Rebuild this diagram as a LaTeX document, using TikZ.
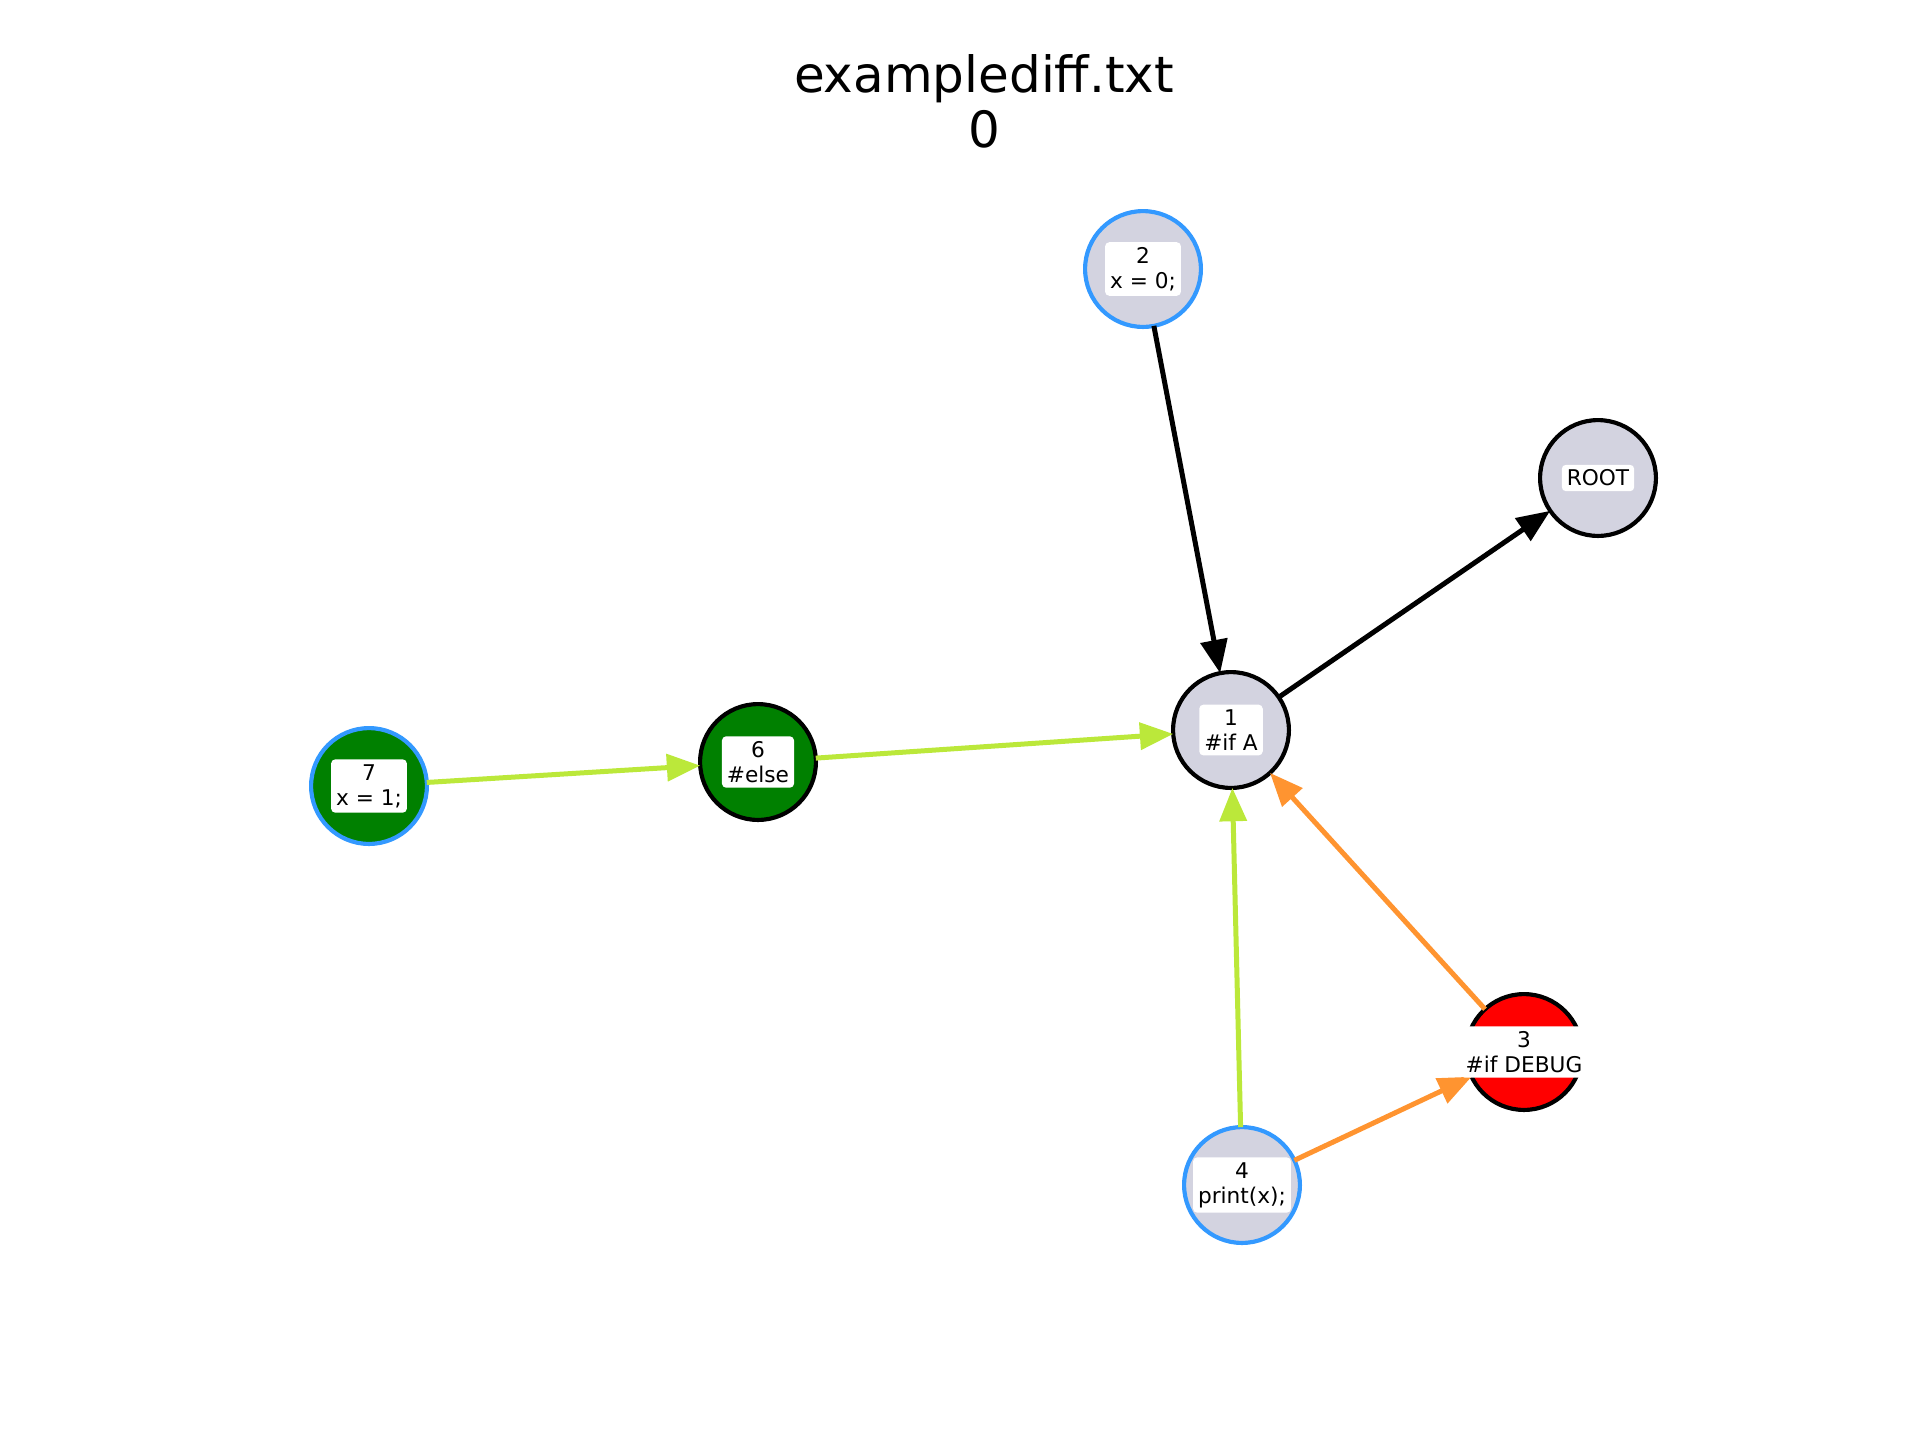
\documentclass[tikz,border=0pt]{standalone}
\usepackage{fontspec}
\setmainfont{DejaVu Sans}
\usetikzlibrary{arrows.meta}
\definecolor{nodefill}{HTML}{D3D3E0}
\definecolor{bluebd}{HTML}{3399FF}
\definecolor{greenfill}{HTML}{008000}
\definecolor{redfill}{HTML}{FF0000}
\definecolor{ygreen}{HTML}{BBE83A}
\definecolor{orangee}{HTML}{FF9430}
\begin{document}
\begin{tikzpicture}[x=0.24pt,y=-0.24pt,
  circ/.style={circle,minimum size=27.8pt,inner sep=0pt,outer sep=0pt,line width=1pt},
  lbl/.style={fill=white,rounded corners=1pt,inner sep=1.2pt,align=center,font=\fontsize{5.2}{6}\selectfont},
  edgearrow/.style={line width=1.2pt,-{Triangle[length=8pt,width=6.4pt]}},
  ttl/.style={anchor=base,font=\fontsize{12}{14}\selectfont}]
\useasboundingbox (0,0) rectangle (1920,1440);
\node[ttl] (title) at (984,92) {examplediff.txt};
\node[ttl] (title0) at (984,147) {0};
% nodes
\node[circ,fill=nodefill,draw=bluebd] (n2) at (1143,269) {};
\node[circ,fill=nodefill,draw=black] (root) at (1598,478) {};
\node[circ,fill=nodefill,draw=black] (n1) at (1231,730) {};
\node[circ,fill=greenfill,draw=black] (n6) at (758,762) {};
\node[circ,fill=greenfill,draw=bluebd] (n7) at (369,786) {};
\node[circ,fill=redfill,draw=black] (n3) at (1524,1052) {};
\node[circ,fill=nodefill,draw=bluebd] (n4) at (1242,1185) {};
% edges
\draw[edgearrow,black] (n2) -- (n1);
\draw[edgearrow,black] (n1) -- (root);
\draw[edgearrow,ygreen] (n7) -- (n6);
\draw[edgearrow,ygreen] (n6) -- (n1);
\draw[edgearrow,ygreen] (n4) -- (n1);
\draw[edgearrow,orangee] (n3) -- (n1);
\draw[edgearrow,orangee] (n4) -- (n3);
% labels
\node[lbl] (l2) at (n2) {2\\x = 0;};
\node[lbl] (lroot) at (root) {ROOT};
\node[lbl] (l1) at (n1) {1\\\#if A};
\node[lbl] (l6) at (n6) {6\\\#else};
\node[lbl] (l7) at (n7) {7\\x = 1;};
\node[lbl] (l3) at (n3) {3\\\#if DEBUG};
\node[lbl] (l4) at (n4) {4\\print(x);};
\end{tikzpicture}
\end{document}
